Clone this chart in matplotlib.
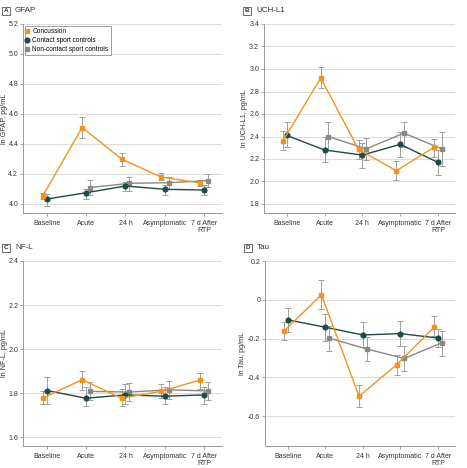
import matplotlib
matplotlib.use("Agg")
import matplotlib.pyplot as plt
import numpy as np

plt.rcParams['font.family'] = ['Liberation Sans Narrow', 'Liberation Sans', 'DejaVu Sans']

categories = ["Baseline", "Acute", "24 h", "Asymptomatic", "7 d After\nRTP"]
groups = ["Concussion", "Contact sport controls", "Non-contact sport controls"]

# GFAP
gfap_conc = [4.053, 4.51, 4.30, 4.18, 4.14]
gfap_conc_lo = [4.033, 4.44, 4.255, 4.16, 4.12]
gfap_conc_hi = [4.075, 4.58, 4.34, 4.21, 4.16]
gfap_cont = [4.033, 4.075, 4.12, 4.098, 4.093]
gfap_cont_lo = [3.99, 4.035, 4.09, 4.06, 4.06]
gfap_cont_hi = [4.07, 4.10, 4.15, 4.13, 4.13]
gfap_non = [np.nan, 4.11, 4.138, 4.142, 4.156]
gfap_non_lo = [np.nan, 4.06, 4.09, 4.10, 4.115]
gfap_non_hi = [np.nan, 4.16, 4.18, 4.18, 4.20]

# UCH-L1
uch_conc = [2.36, 2.92, 2.285, 2.095, 2.305]
uch_conc_lo = [2.28, 2.83, 2.20, 2.01, 2.22]
uch_conc_hi = [2.45, 3.02, 2.37, 2.18, 2.38]
uch_cont = [2.41, 2.28, 2.235, 2.33, 2.17]
uch_cont_lo = [2.31, 2.17, 2.12, 2.22, 2.06]
uch_cont_hi = [2.53, 2.40, 2.34, 2.44, 2.28]
uch_non = [np.nan, 2.40, 2.29, 2.43, 2.29]
uch_non_lo = [np.nan, 2.28, 2.19, 2.31, 2.14]
uch_non_hi = [np.nan, 2.53, 2.39, 2.53, 2.44]

# NF-L
nfl_conc = [1.777, 1.861, 1.777, 1.808, 1.86]
nfl_conc_lo = [1.75, 1.815, 1.74, 1.78, 1.82]
nfl_conc_hi = [1.81, 1.90, 1.82, 1.84, 1.89]
nfl_cont = [1.812, 1.777, 1.792, 1.786, 1.792]
nfl_cont_lo = [1.75, 1.74, 1.75, 1.75, 1.75]
nfl_cont_hi = [1.875, 1.83, 1.84, 1.83, 1.83]
nfl_non = [np.nan, 1.808, 1.805, 1.815, 1.81]
nfl_non_lo = [np.nan, 1.77, 1.765, 1.775, 1.77]
nfl_non_hi = [np.nan, 1.85, 1.845, 1.855, 1.85]

# Tau
tau_conc = [-0.162, 0.026, -0.497, -0.334, -0.14]
tau_conc_lo = [-0.207, -0.047, -0.553, -0.386, -0.184]
tau_conc_hi = [-0.115, 0.10, -0.44, -0.283, -0.084]
tau_cont = [-0.103, -0.141, -0.181, -0.174, -0.197]
tau_cont_lo = [-0.167, -0.21, -0.245, -0.236, -0.245]
tau_cont_hi = [-0.041, -0.072, -0.115, -0.110, -0.15]
tau_non = [np.nan, -0.197, -0.253, -0.302, -0.221]
tau_non_lo = [np.nan, -0.262, -0.317, -0.369, -0.288]
tau_non_hi = [np.nan, -0.133, -0.19, -0.236, -0.162]

panels = [
    dict(letter="A", title="GFAP", ylabel="ln GFAP, pg/mL", ylim=(3.94, 5.2),
         yticks=[4.0, 4.2, 4.4, 4.6, 4.8, 5.0, 5.2], fmt="{:.1f}", lab=-15,
         data=[(gfap_conc, gfap_conc_lo, gfap_conc_hi), (gfap_cont, gfap_cont_lo, gfap_cont_hi),
               (gfap_non, gfap_non_lo, gfap_non_hi)], rect=(23, 24, 222, 213), legend=True),
    dict(letter="B", title="UCH-L1", ylabel="ln UCH-L1, pg/mL", ylim=(1.72, 3.4),
         yticks=[1.8, 2.0, 2.2, 2.4, 2.6, 2.8, 3.0, 3.2, 3.4], fmt="{:.1f}", lab=-16,
         data=[(uch_conc, uch_conc_lo, uch_conc_hi), (uch_cont, uch_cont_lo, uch_cont_hi),
               (uch_non, uch_non_lo, uch_non_hi)], rect=(264, 24, 455, 213), legend=False),
    dict(letter="C", title="NF-L", ylabel="ln NF-L, pg/mL", ylim=(1.56, 2.4),
         yticks=[1.6, 1.8, 2.0, 2.2, 2.4], fmt="{:.1f}", lab=-15,
         data=[(nfl_conc, nfl_conc_lo, nfl_conc_hi), (nfl_cont, nfl_cont_lo, nfl_cont_hi),
               (nfl_non, nfl_non_lo, nfl_non_hi)], rect=(23, 261, 222, 446), legend=False),
    dict(letter="D", title="Tau", ylabel="ln Tau, pg/mL", ylim=(-0.753, 0.2),
         yticks=[-0.6, -0.4, -0.2, 0, 0.2], fmt="tau", lab=-19,
         data=[(tau_conc, tau_conc_lo, tau_conc_hi), (tau_cont, tau_cont_lo, tau_cont_hi),
               (tau_non, tau_non_lo, tau_non_hi)], rect=(265, 261, 455, 446), legend=False),
]

colors = ["#F5921E", "#1E4A48", "#8A8A80"]
markers = ["s", "o", "s"]
offsets = [-0.1, 0.0, 0.1]
W, H = 467, 468
fig = plt.figure(figsize=(W / 100, H / 100), dpi=100)
x = np.arange(len(categories))
grid_c = "#DDDDDD"
spine_c = "#999999"
txt_c = "#333333"

for p in panels:
    l, t, r, b = p["rect"]
    ax = fig.add_axes([l / W, 1 - b / H, (r - l) / W, (b - t) / H])
    handles = []
    for i, (vals, lo, hi) in enumerate(p["data"]):
        v = np.array(vals, float)
        lo = np.array(lo, float)
        hi = np.array(hi, float)
        xs = x + offsets[i]
        ax.errorbar(xs, v, yerr=[v - lo, hi - v], fmt="none", ecolor="#A0A0A0",
                    elinewidth=0.7, capsize=2.2, capthick=0.7, zorder=2)
        h, = ax.plot(xs, v, color=colors[i], marker=markers[i], markersize=3.4,
                     linewidth=1.0, zorder=3 + (2 - i), label=groups[i])
        handles.append(h)
    ax.set_xlim(-0.6, 4.45)
    ax.set_ylim(*p["ylim"])
    ax.set_yticks(p["yticks"])
    if p["fmt"] == "tau":
        ax.set_yticklabels(["0" if v == 0 else f"{v:.1f}" for v in p["yticks"]])
    else:
        ax.set_yticklabels([p["fmt"].format(v) for v in p["yticks"]])
    ax.set_xticks(x)
    ax.set_xticklabels(categories, linespacing=1.0)
    ax.yaxis.grid(True, color=grid_c, linewidth=0.8)
    ax.set_axisbelow(True)
    for s in ["top", "right"]:
        ax.spines[s].set_visible(False)
    for s in ["left", "bottom"]:
        ax.spines[s].set_color(spine_c)
        ax.spines[s].set_linewidth(0.7)
    ax.tick_params(axis="both", labelsize=5, colors=spine_c, labelcolor=txt_c,
                   length=2, width=0.6, pad=1.5)
    ax.tick_params(axis="x", pad=3)
    ax.set_ylabel(p["ylabel"], fontsize=5.2, color=txt_c)
    ax.yaxis.set_label_coords(p["lab"] / (r - l), 0.5)
    ybox = 1 + 13 / (b - t)
    ax.text(-17 / (r - l), ybox, p["letter"], transform=ax.transAxes, fontsize=4.6,
            fontweight="bold", color=txt_c, ha="center", va="center",
            family=["Liberation Sans", "DejaVu Sans"],
            bbox=dict(boxstyle="square,pad=0.3", fc="white", ec="#555555", lw=0.6))
    ax.text(-8 / (r - l), ybox, p["title"], transform=ax.transAxes, fontsize=5.8,
            color=txt_c, ha="left", va="center")
    if p["legend"]:
        leg = ax.legend(handles=handles, loc="upper left", bbox_to_anchor=(0.0, 1.0),
                        fontsize=4.7, frameon=True, fancybox=False, handlelength=0,
                        handletextpad=0.8, borderpad=0.35, labelspacing=0.3,
                        edgecolor="#888888", borderaxespad=0.3)
        leg.get_frame().set_linewidth(0.7)
        for lh in leg.legend_handles:
            lh.set_linestyle("none")

fig.savefig("out.png", dpi=100)
